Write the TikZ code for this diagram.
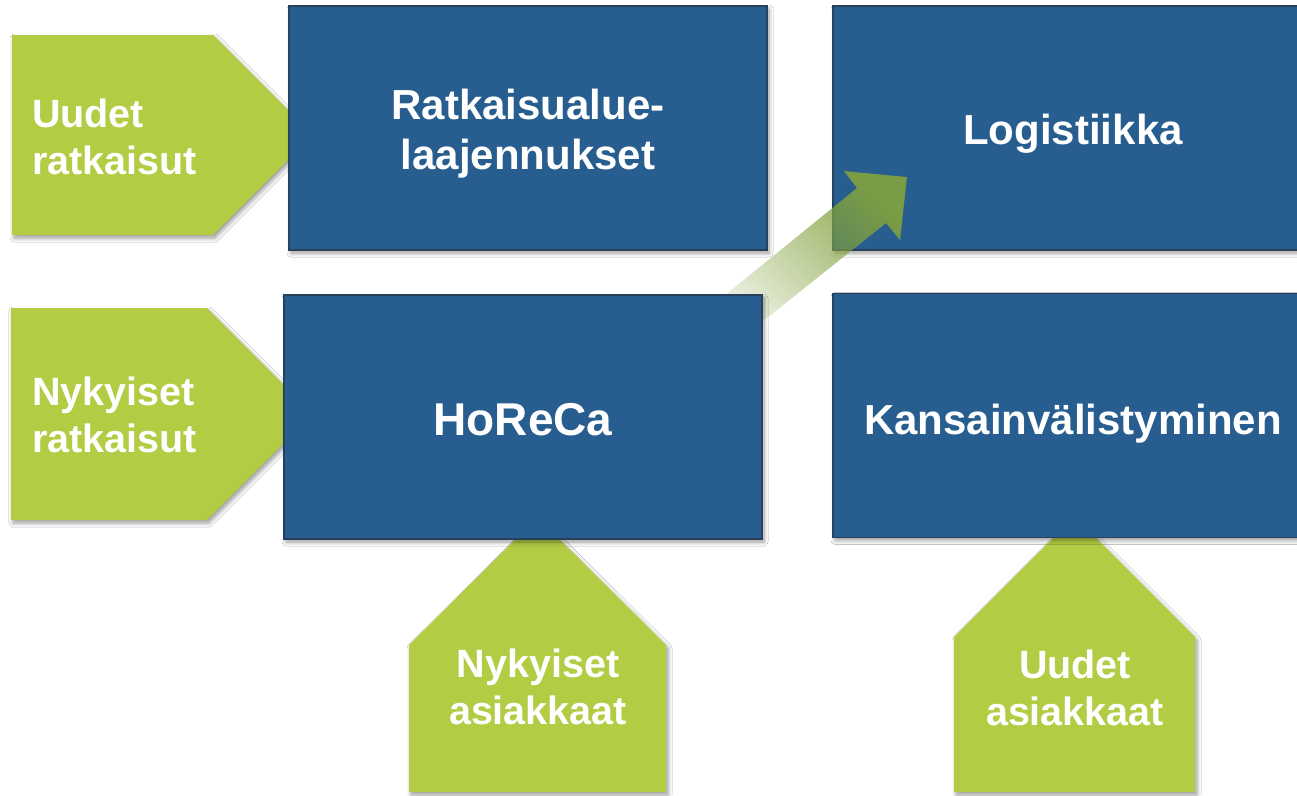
\documentclass[tikz,border=0pt]{standalone}
\usepackage{fontspec}
\setmainfont{Liberation Sans}
\usetikzlibrary{shadows.blur,fadings}

\definecolor{boxblue}{RGB}{40,93,143}
\definecolor{boxedge}{RGB}{40,64,90}
\definecolor{leafgreen}{RGB}{178,204,68}
\definecolor{arrowgreen}{RGB}{130,162,62}

% the block arrow fades out towards its tail
\tikzfading[name=arrowfade, left color=transparent!100, middle color=transparent!12, right color=transparent!8]

\begin{document}
\begin{tikzpicture}[x=1pt,y=-1pt,
  softshadow/.style={blur shadow={shadow xshift=2pt, shadow yshift=-3pt,
      shadow blur radius=4pt, shadow blur steps=6, shadow opacity=40}},
  blockbox/.style={draw=boxedge, line width=1.6pt, fill=boxblue,
      minimum width=478pt, minimum height=244pt, inner sep=0pt,
      text=white, align=center, softshadow,
      font=\bfseries\fontsize{42}{50}\selectfont},
  tagshape/.style={fill=leafgreen, softshadow},
  taglabel/.style={text=white, inner sep=0pt,
      font=\bfseries\fontsize{39.5}{47.5}\selectfont},
]
\path[use as bounding box, clip] (0,0) rectangle (1297,795);
\fill[white] (0,0) rectangle (1297,795);

% green pointers, drawn beneath the blocks
\fill[tagshape] (12,35) -- (213,35) -- (313,135) -- (213,235) -- (12,235) -- cycle;
\fill[tagshape] (11,308) -- (207,308) -- (313,414) -- (207,520) -- (11,520) -- cycle;
\fill[tagshape] (409,645) -- (537.5,517.5) -- (666,645) -- (666,792) -- (409,792) -- cycle;
\fill[tagshape] (954,637) -- (1074.5,516.5) -- (1195,637) -- (1195,792) -- (954,792) -- cycle;

\node[taglabel, anchor=west, align=left] (newsol) at (32,137) {Uudet\\ratkaisut};
\node[taglabel, anchor=west, align=left] (cursol) at (32,415) {Nykyiset\\ratkaisut};
\node[taglabel, align=center] (curcust) at (538,687) {Nykyiset\\asiakkaat};
\node[taglabel, align=center] (newcust) at (1075,688) {Uudet\\asiakkaat};

% blue blocks
\node[blockbox] (ext) at (528,128) {};
\node[blockbox] (logi) at (1072,128) {};
\node[blockbox] (intl) at (1072,415.5) {};

% block arrow from HoReCa towards Logistiikka; its tail runs under the HoReCa block
\fill[arrowgreen, path fading=arrowfade, fading angle=39]
  (682,330) -- (857,188) -- (844,171) -- (907,177)
  -- (900,240) -- (886,223) -- (718,357) -- cycle;

\node[blockbox] (horeca) at (523,417) {};

% block texts
\node[text=white, align=center, font=\bfseries\fontsize{42}{50}\selectfont]
  (extlabel) at (528,134) {Ratkaisualue-\\laajennukset};
\node[text=white, font=\bfseries\fontsize{42}{50}\selectfont]
  (logilabel) at (1073,134) {Logistiikka};
\node[text=white, font=\bfseries\fontsize{46}{54}\selectfont]
  (horecalabel) at (523,420) {HoReCa};
\node[text=white, font=\bfseries\fontsize{42}{50}\selectfont]
  (intllabel) at (1073,424) {Kansainvälistyminen};
\end{tikzpicture}
\end{document}
